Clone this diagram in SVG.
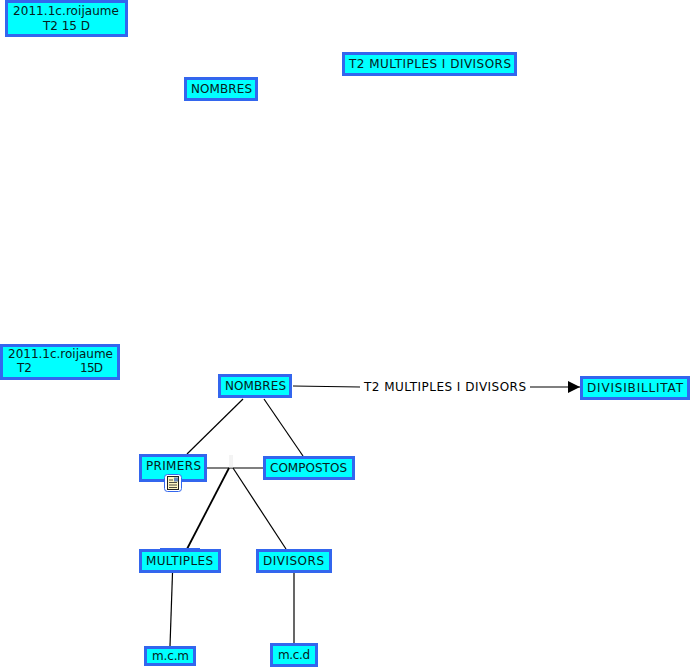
<svg xmlns="http://www.w3.org/2000/svg" width="690" height="667" viewBox="0 0 690 667">
<style>
.n{fill:#00ffff;stroke:#3366ee;stroke-width:3}
text{font-family:"DejaVu Sans",Verdana,sans-serif;font-size:12px;fill:#062020;text-anchor:middle}
.c{stroke:#000;stroke-width:1.2;fill:none}
</style>
<defs><marker id="a" markerUnits="userSpaceOnUse" markerWidth="13" markerHeight="12" refX="12" refY="6" orient="auto"><path d="M0 0L12 6L0 12Z" fill="#000"/></marker></defs>
<g id="connectors">
<path class="c" d="M293 386L360 387"/>
<path class="c" d="M530 387L580 387" marker-end="url(#a)"/>
<path class="c" d="M243 399L187 454"/>
<path class="c" d="M264 399L303 456"/>
<path class="c" d="M207 468L263 468"/>
<path class="c" style="stroke-width:1.8" d="M229 468L187 549"/>
<path class="c" d="M233 468L286 549"/>
<path d="M230 455V468M232 455V468" stroke="#e8e8e8" fill="none"/>
<path d="M160 548.500H200" stroke="#3366ee" fill="none"/>
<path class="c" d="M172.500 573L170 646"/>
<path class="c" d="M294 573V643"/>
</g>
<g id="n1"><rect class="n" x="6.500" y="1.500" width="120" height="34"/><text x="66" y="15" textLength="106">2011.1c.roijaume</text><text x="66.500" y="30" textLength="47">T2 15 D</text></g>
<g id="n2"><rect class="n" x="185.500" y="78.500" width="71" height="21"/><text x="221.500" y="93" textLength="61">NOMBRES</text></g>
<g id="n3"><rect class="n" x="343.500" y="53.500" width="172" height="21"/><text x="430" y="68" textLength="162">T2 MULTIPLES I DIVISORS</text></g>
<g id="n4"><rect class="n" x="1.500" y="345.500" width="117" height="33"/><text x="60.500" y="358" textLength="105">2011.1c.roijaume</text><text x="24.500" y="372" textLength="15">T2</text><text x="91.500" y="372" textLength="23">15D</text></g>
<g id="n5"><rect class="n" x="219.500" y="375.500" width="71" height="21"/><text x="255.500" y="390" textLength="61">NOMBRES</text></g>
<g id="n6"><rect class="n" x="581.500" y="377.500" width="107" height="21"/><text x="635" y="392" textLength="96">DIVISIBILLITAT</text></g>
<g id="n7"><rect class="n" x="140.500" y="455.500" width="65" height="25"/><text x="173.500" y="470" textLength="55">PRIMERS</text>
<rect x="164.500" y="474.500" width="17" height="17" rx="3" fill="#fff" stroke="#3366ee"/><rect x="167.500" y="476.500" width="11" height="13" fill="#fdf6c0" stroke="#222"/><path d="M169 480H173M169 482.500H177M169 485H177M169 487.500H177" stroke="#222" stroke-width="0.800"/><rect x="174" y="477.500" width="4" height="4" fill="#6688bb"/></g>
<g id="n8"><rect class="n" x="264.500" y="457.500" width="89" height="21"/><text x="308.500" y="472" textLength="77">COMPOSTOS</text></g>
<g id="n9"><rect class="n" x="140.500" y="550.500" width="79" height="21"/><text x="179.500" y="565" textLength="67">MULTIPLES</text></g>
<g id="n10"><rect class="n" x="257.500" y="550.500" width="73" height="21"/><text x="293.500" y="565" textLength="61">DIVISORS</text></g>
<g id="n11"><rect class="n" x="145.500" y="647.500" width="49" height="17"/><text x="170.500" y="660" textLength="37">m.c.m</text></g>
<g id="n12"><rect class="n" x="271.500" y="644.500" width="45" height="21"/><text x="294" y="659" textLength="32">m.c.d</text></g>
<text id="label" x="445" y="391" textLength="162" style="fill:#000">T2 MULTIPLES I DIVISORS</text>
</svg>
